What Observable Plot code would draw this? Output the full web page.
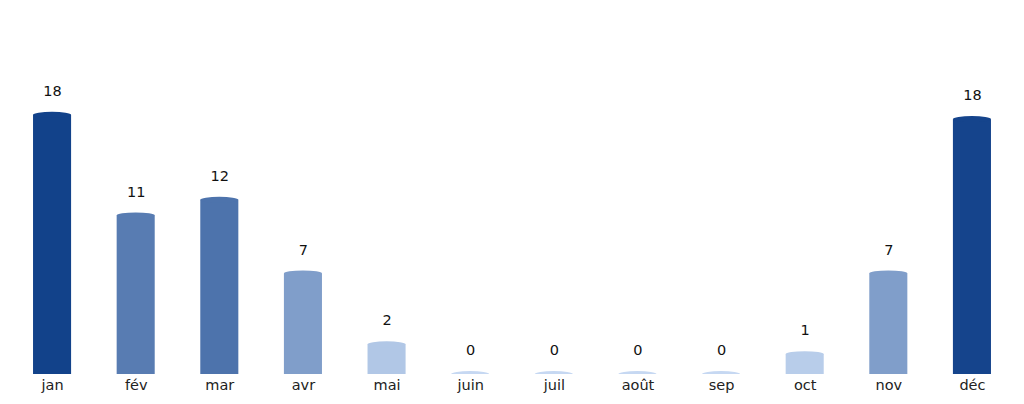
<!DOCTYPE html>
<html>
<head>
<meta charset="utf-8">
<script src="https://cdn.jsdelivr.net/npm/d3@7"></script>
<script src="https://cdn.jsdelivr.net/npm/@observablehq/plot@0.6"></script>
<style>
  html, body { margin: 0; padding: 0; background: #fff; }
  #chart svg { display: block; }
</style>
</head>
<body>
<div id="chart"></div>
<script>
const months = ["jan", "fév", "mar", "avr", "mai", "juin", "juil", "août", "sep", "oct", "nov", "déc"];
const values = [18.3, 11.2, 12.3, 7.1, 2.1, 0, 0, 0, 0, 1.4, 7.1, 18.0];
const labels = ["18", "11", "12", "7", "2", "0", "0", "0", "0", "1", "7", "18"];

const data = months.map((m, i) => ({month: m, value: values[i], label: labels[i]}));

const chart = Plot.plot({
  width: 1024,
  height: 404,
  marginTop: 20,
  marginBottom: 30,
  marginLeft: 0,
  marginRight: 0,
  style: {fontFamily: "DejaVu Sans, sans-serif", background: "#fff"},
  x: {domain: months, paddingInner: 0.545, paddingOuter: 0.395, round: false, axis: null},
  y: {domain: [0, 25], axis: null},
  color: {type: "linear", domain: [0, 18.3], range: ["#c6d8f2", "#12428a"], interpolate: "rgb"},
  marks: [
    Plot.barY(data, {x: "month", y: "value", fill: "value"}),
    Plot.barY(data, {x: "month", y1: "value", y2: "value", fill: "value", insetTop: -3, insetBottom: -3, rx: 19, ry: 3, clip: true}),
    Plot.text(data, {x: "month", y: "value", text: "label", dy: -24, fontSize: 14.5, fill: "#111"}),
    Plot.axisX({tickSize: 0, tickPadding: 5, fontSize: 14.5, color: "#222", label: null})
  ]
});
document.getElementById("chart").append(chart);
</script>
</body>
</html>
